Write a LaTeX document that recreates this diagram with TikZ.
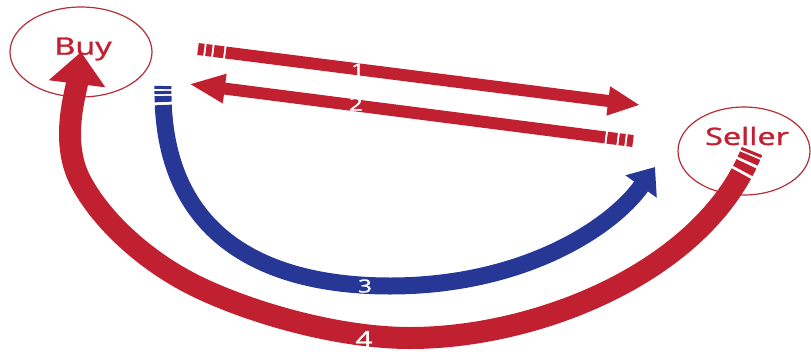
\documentclass[tikz,border=0pt]{standalone}
\usepackage{fontspec}
\setmainfont{Open Sans}
\newfontfamily\namefont[FakeBold=1.2]{Open Sans}
\usetikzlibrary{arrows.meta,shapes.geometric}
\definecolor{dealred}{RGB}{193,32,48}
\definecolor{dealblue}{RGB}{38,55,150}
\definecolor{ringred}{RGB}{180,45,55}
\newcommand{\wide}[1]{\scalebox{1.35}[1]{#1}}

\begin{document}
\begin{tikzpicture}[x=1pt, y=-1pt,
  party/.style={draw=ringred, line width=1.2pt, ellipse, inner sep=0pt},
  partyname/.style={text=dealred, inner sep=0pt, font=\namefont\fontsize{24}{24}\selectfont},
  band/.style={draw=dealred, line width=#1},
  num/.style={text=white, inner sep=0pt, font=\namefont\fontsize{18}{18}\selectfont}]

  \useasboundingbox (0,0) rectangle (811,351);

  % the two parties
  \node[party, minimum width=142pt, minimum height=90pt] (buy) at (81,52) {};
  \node[party, minimum width=132pt, minimum height=88pt] (seller) at (744,151) {};

  \coordinate (a1s) at (198,49);
  \coordinate (a1e) at (640,105);
  \coordinate (a2s) at (633,141);
  \coordinate (a2e) at (189,84);
  \coordinate (a3s) at (163,86);
  \coordinate (a3m) at (390,286);
  \coordinate (a3e) at (655,167);
  \coordinate (a4m) at (410,338);
  \coordinate (a4b) at (200,288);
  \coordinate (a4c) at (80,180);

  % 4: seller back to buyer
  \draw[band=22pt, -{Triangle[width=55pt,length=32pt]},
        dash pattern=on 3pt off 2pt on 6pt off 3pt on 8pt off 3pt on 2000pt]
    ([xshift=8pt]seller.center) .. controls (705,270) and (540,338) .. (a4m)
    .. controls (340,338) and (255,314) .. (a4b)
    .. controls (145,262) and (100,219) .. (a4c)
    .. controls (60,141) and (76,92) .. (buy.center);

  % 3: buyer to seller
  \draw[band=17pt, draw=dealblue, -{Triangle[width=37pt,length=24pt]},
        dash pattern=on 3pt off 2pt on 3pt off 2pt on 6pt off 3pt on 2000pt]
    (a3s) .. controls (160,260) and (300,286) .. (a3m)
    .. controls (520,286) and (610,230) .. (a3e);

  % 1 and 2
  \draw[band=12pt, -{Triangle[width=27pt,length=32pt]},
        dash pattern=on 6pt off 2pt on 6pt off 2pt on 10pt off 2pt on 2000pt]
    (a1s) -- (a1e);
  \draw[band=12pt, -{Triangle[width=27pt,length=36pt]},
        dash pattern=on 6pt off 2pt on 6pt off 2pt on 10pt off 2pt on 2000pt]
    (a2s) -- (a2e);

  \node[partyname] (buytext) at (83,49) {\wide{Buy}};
  \node[partyname] (sellertext) at (747,136) {\wide{Seller}};

  \node[num] (n1) at (358,70) {\wide{1}};
  \node[num] (n2) at (356,104) {\wide{2}};
  \node[num] (n3) at (365,286) {\wide{3}};
  \node[num, font=\namefont\fontsize{22}{22}\selectfont] (n4) at (364,339) {\wide{4}};
\end{tikzpicture}
\end{document}
